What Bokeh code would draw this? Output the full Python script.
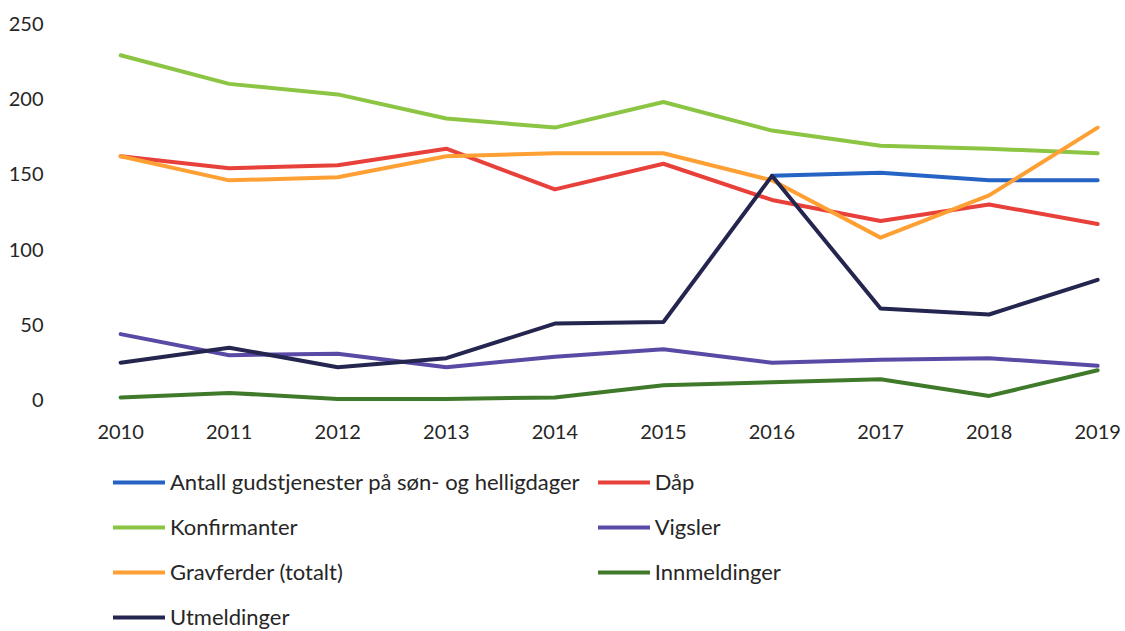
from bokeh.plotting import figure
from bokeh.models import Legend, LegendItem, Range1d, FixedTicker
from bokeh.layouts import column
from bokeh.embed import file_html
from bokeh.resources import INLINE

years = [2010, 2011, 2012, 2013, 2014, 2015, 2016, 2017, 2018, 2019]
nan = float("nan")
gudstjenester = [nan, nan, nan, nan, nan, nan, 149, 151, 146, 146]
daap = [162, 154, 156, 167, 140, 157, 133, 119, 130, 117]
konfirmanter = [229, 210, 203, 187, 181, 198, 179, 169, 167, 164]
vigsler = [44, 30, 31, 22, 29, 34, 25, 27, 28, 23]
gravferder = [162, 146, 148, 162, 164, 164, 146, 108, 136, 181]
innmeldinger = [2, 5, 1, 1, 2, 10, 12, 14, 3, 20]
utmeldinger = [25, 35, 22, 28, 51, 52, 149, 61, 57, 80]
y_ticks = [0, 50, 100, 150, 200, 250]

series = [
    ("Antall gudstjenester på søn- og helligdager", gudstjenester, "#2563c4"),
    ("Dåp", daap, "#e8403a"),
    ("Konfirmanter", konfirmanter, "#8cc443"),
    ("Vigsler", vigsler, "#5a4aa6"),
    ("Gravferder (totalt)", gravferder, "#ffa035"),
    ("Innmeldinger", innmeldinger, "#3f7a2b"),
    ("Utmeldinger", utmeldinger, "#25264f"),
]

FONT = "Lato"

p = figure(width=1125, height=455, output_backend="svg", toolbar_location=None,
           x_range=Range1d(2009.4, 2019.1), y_range=Range1d(-10, 260),
           min_border_left=55, min_border_right=17, min_border_top=8,
           min_border_bottom=40)
p.outline_line_color = None
p.grid.visible = False

for ax in (p.xaxis[0], p.yaxis[0]):
    ax.axis_line_color = None
    ax.major_tick_line_color = None
    ax.minor_tick_line_color = None
    ax.major_tick_out = 0
    ax.major_tick_in = 0
    ax.major_label_text_font = FONT
    ax.major_label_text_font_size = "20px"
    ax.major_label_text_color = "#262626"
p.xaxis[0].ticker = FixedTicker(ticks=years)
p.yaxis[0].ticker = FixedTicker(ticks=y_ticks)
p.xaxis[0].major_label_standoff = 9
p.yaxis[0].major_label_standoff = 12

for name, vals, col in series:
    p.line(years, vals, line_color=col, line_width=4, line_join="round", line_cap="round")

# legend panel as a separate figure below the chart (series lie outside its range)
lg = figure(width=1125, height=176, output_backend="svg", toolbar_location=None,
            x_range=Range1d(0, 1), y_range=Range1d(0, 1),
            x_axis_type=None, y_axis_type=None,
            min_border_left=0, min_border_right=0, min_border_top=0, min_border_bottom=0)
lg.outline_line_color = None
lg.grid.visible = False
items = []
for name, vals, col in series:
    r = lg.line(years, vals, line_color=col, line_width=4, line_cap="round")
    items.append(LegendItem(label=name, renderers=[r]))

legend = Legend(items=items, orientation="horizontal", ncols=2,
                location=(58, 1), label_text_font=FONT,
                label_text_font_size="22px", label_text_color="#262626",
                glyph_width=52, glyph_height=26, label_height=26,
                label_standoff=5, spacing=18, padding=0, margin=0,
                border_line_color=None, background_fill_alpha=0)
lg.add_layout(legend, "center")

layout = column(p, lg, spacing=0)
open("out.html", "w").write(file_html(layout, INLINE))
